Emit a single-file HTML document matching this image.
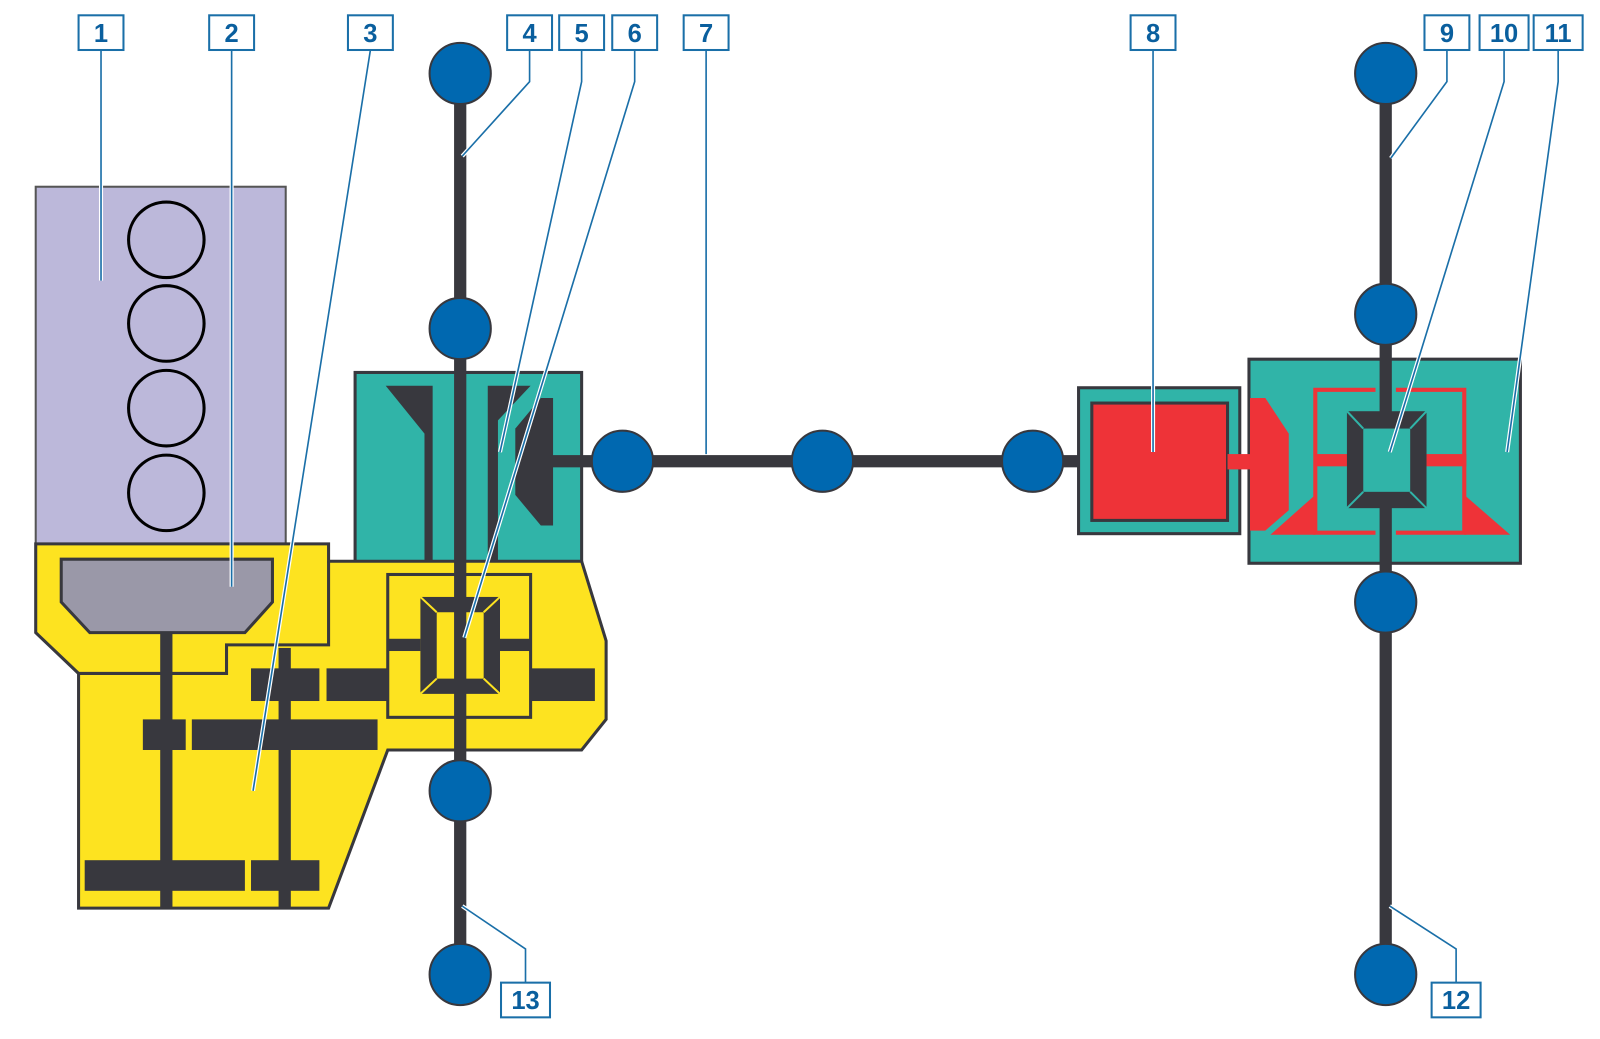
<!DOCTYPE html>
<html><head><meta charset="utf-8"><style>
html,body{margin:0;padding:0;background:#fff;width:1600px;height:1039px;overflow:hidden}
svg{display:block}
text{font-family:"Liberation Sans",sans-serif;font-weight:bold;font-size:25px;fill:#0a5f9e;text-anchor:middle}
</style></head><body>
<svg width="1600" height="1039" viewBox="0 0 1600 1039">
<g transform="scale(1.0204)">
<!-- engine -->
<rect x="35" y="183" width="245" height="352" fill="#bcb8da" stroke="#555" stroke-width="2"/>
<g fill="none" stroke="#000" stroke-width="3">
<circle cx="163" cy="235" r="37"/><circle cx="163" cy="317" r="37"/><circle cx="163" cy="400" r="37"/><circle cx="163" cy="483" r="37"/>
</g>
<!-- teal clutch housing -->
<rect x="348" y="365" width="222" height="188" fill="#30b4a8" stroke="#38383e" stroke-width="3"/>
<!-- yellow gearbox -->
<polygon points="35,533 322,533 322,550 570,550 594,628 594,705 570,735 380,735 322,890 77,890 77,660 35,620" fill="#fde320" stroke="#38383e" stroke-width="3"/>
<polyline points="322,550 322,632 222,632 222,660 77,660" fill="none" stroke="#38383e" stroke-width="3"/>
<polygon points="60,548 267,548 267,590 240,620 88,620 60,590" fill="#9a98a8" stroke="#38383e" stroke-width="3"/>
<g fill="#38383e">
<rect x="157" y="620" width="12" height="270"/>
<rect x="273" y="635" width="12" height="255"/>
<rect x="140" y="705" width="42" height="30"/>
<rect x="188" y="705" width="182" height="30"/>
<rect x="246" y="655" width="67" height="32"/>
<rect x="320" y="655" width="60" height="32"/>
<rect x="83" y="843" width="157" height="30"/>
<rect x="246" y="843" width="67" height="30"/>
<rect x="520" y="655" width="63" height="32"/>
</g>
<!-- front diff -->
<rect x="380" y="563" width="140" height="140" fill="none" stroke="#38383e" stroke-width="3"/>
<rect x="380" y="626" width="32" height="12" fill="#38383e"/>
<rect x="490" y="626" width="30" height="12" fill="#38383e"/>
<rect x="412" y="585" width="78" height="95" fill="#38383e"/>
<polygon points="428,600 474,600 474,665 428,665" fill="#fde320"/>
<g stroke="#fde320" stroke-width="2"><line x1="412" y1="585" x2="428" y2="600"/><line x1="490" y1="585" x2="474" y2="600"/><line x1="412" y1="680" x2="428" y2="665"/><line x1="490" y1="680" x2="474" y2="665"/></g>
<!-- clutch parts -->
<g fill="#38383e">
<polygon points="378,378 424,378 424,550 416,550 416,425"/>
<polygon points="478,378 520,378 488,412 488,550 478,550"/>
<polygon points="505,420 530,390 542,390 542,515 530,515 505,485"/>
<rect x="540" y="446" width="70" height="12"/>
</g>
<!-- front vertical shaft -->
<rect x="445" y="72" width="12" height="883" fill="#38383e"/>
<rect x="640" y="446" width="420" height="12" fill="#38383e"/>
<!-- rear -->
<rect x="1224" y="352" width="266" height="200" fill="#30b4a8" stroke="#38383e" stroke-width="3"/>
<rect x="1057" y="380" width="158" height="143" fill="#30b4a8" stroke="#38383e" stroke-width="3"/>
<rect x="1070" y="395" width="133" height="115" fill="#ee3338" stroke="#38383e" stroke-width="3"/>
<rect x="1203" y="445" width="24" height="15" fill="#ee3338"/>
<polygon points="1225,390 1240,390 1263,425 1263,500 1240,520 1225,520" fill="#ee3338"/>
<g fill="none" stroke="#ee3338" stroke-width="4">
<polyline points="1348,382 1289,382 1289,522 1348,522"/>
<polyline points="1368,382 1435,382 1435,522 1368,522"/>
</g>
<polygon points="1245,524 1289,524 1289,485" fill="#ee3338"/>
<polygon points="1435,485 1435,524 1480,524" fill="#ee3338"/>
<rect x="1289" y="445" width="32" height="12" fill="#ee3338"/>
<rect x="1398" y="445" width="39" height="12" fill="#ee3338"/>
<rect x="1352" y="72" width="12" height="883" fill="#38383e"/>
<rect x="1320" y="403" width="78" height="95" fill="#38383e"/>
<rect x="1336" y="420" width="46" height="62" fill="#30b4a8"/>
<g stroke="#30b4a8" stroke-width="2"><line x1="1320" y1="403" x2="1336" y2="420"/><line x1="1398" y1="403" x2="1382" y2="420"/><line x1="1320" y1="498" x2="1336" y2="482"/><line x1="1398" y1="498" x2="1382" y2="482"/></g>
<!-- joints -->
<g fill="#0068b0" stroke="#38383e" stroke-width="2">
<circle cx="451" cy="72" r="30"/><circle cx="451" cy="322" r="30"/><circle cx="451" cy="775" r="30"/><circle cx="451" cy="955" r="30"/>
<circle cx="610" cy="452" r="30"/><circle cx="806" cy="452" r="30"/><circle cx="1012" cy="452" r="30"/>
<circle cx="1358" cy="72" r="30"/><circle cx="1358" cy="308" r="30"/><circle cx="1358" cy="590" r="30"/><circle cx="1358" cy="955" r="30"/>
</g>
<!-- leader lines -->
<g fill="none" stroke="#fff" stroke-width="4">
<path d="M99,49V275M227,49V575M363,49L248,775M519,49V80L453,153M570,49V80L490,443M622,49V80L455,625M692,49V445M1130,49V443M1418,49V80L1363,155M1474,49V80L1362,443M1527,49V80L1477,443M1427,963V930L1362,888M515,963V930L453,888"/>
</g>
<g fill="none" stroke="#1a6fa8" stroke-width="1.6">
<path d="M99,49V275M227,49V575M363,49L248,775M519,49V80L453,153M570,49V80L490,443M622,49V80L455,625M692,49V445M1130,49V443M1418,49V80L1363,155M1474,49V80L1362,443M1527,49V80L1477,443M1427,963V930L1362,888M515,963V930L453,888"/>
</g>
<!-- label boxes -->
<g fill="#fff" stroke="#1a6fa8" stroke-width="2">
<rect x="77" y="15" width="44" height="34"/><rect x="205" y="15" width="44" height="34"/><rect x="341" y="15" width="44" height="34"/>
<rect x="497" y="15" width="44" height="34"/><rect x="548" y="15" width="44" height="34"/><rect x="600" y="15" width="44" height="34"/>
<rect x="670" y="15" width="44" height="34"/><rect x="1108" y="15" width="44" height="34"/><rect x="1396" y="15" width="44" height="34"/>
<rect x="1450" y="15" width="48" height="34"/><rect x="1503" y="15" width="48" height="34"/>
<rect x="1403" y="963" width="48" height="34"/><rect x="491" y="963" width="48" height="34"/>
</g>
<text x="99" y="41">1</text><text x="227" y="41">2</text><text x="363" y="41">3</text>
<text x="519" y="41">4</text><text x="570" y="41">5</text><text x="622" y="41">6</text>
<text x="692" y="41">7</text><text x="1130" y="41">8</text><text x="1418" y="41">9</text>
<text x="1474" y="41">10</text><text x="1527" y="41">11</text>
<text x="1427" y="989">12</text><text x="515" y="989">13</text>
</g>
</svg>
</body></html>
